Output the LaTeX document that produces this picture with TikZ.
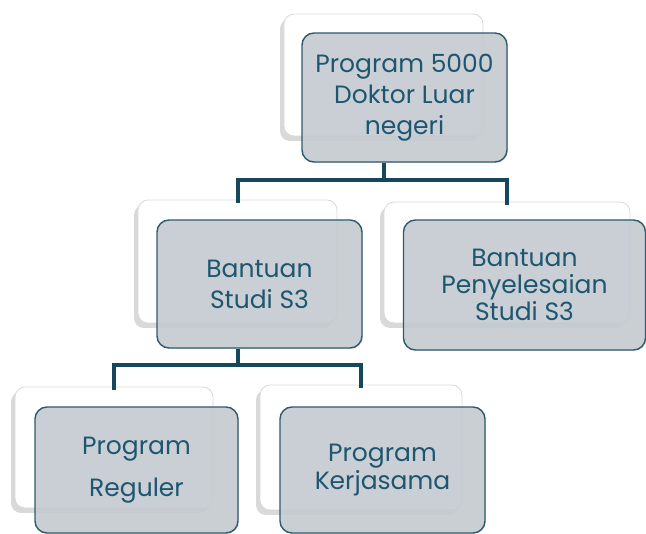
\documentclass[tikz,border=0pt]{standalone}
\usepackage{fontspec}
\setmainfont{Poppins}
\usetikzlibrary{shadows}
\definecolor{frontfill}{HTML}{C6CCD2}
\definecolor{frontline}{HTML}{2C5A6E}
\definecolor{txt}{HTML}{1E5670}
\definecolor{conn}{HTML}{17475C}
\begin{document}
\begin{tikzpicture}[x=1pt,y=-1pt,
  backbox/.style={rectangle, rounded corners=10pt, fill=white, draw=gray!30, line width=0.8pt,
    drop shadow={opacity=0.3, fill=gray, shadow xshift=-4pt, shadow yshift=-5pt}, inner sep=0pt},
  frontbox/.style={rectangle, rounded corners=12pt, fill=frontfill, fill opacity=0.88,
    text opacity=1, draw=frontline, line width=1.4pt, text=txt, align=center,
    font=\fontsize{25}{31}\selectfont, inner sep=0pt,
    drop shadow={opacity=0.2, shadow xshift=1pt, shadow yshift=-1pt}},
  connector/.style={draw=conn, line width=4pt}]
\useasboundingbox (0,0) rectangle (646,534);
% back boxes
\node[backbox, minimum width=199pt, minimum height=122pt] (topb) at (383.5,75) {};
\node[backbox, minimum width=199pt, minimum height=123pt] (bsb) at (237.5,261.5) {};
\node[backbox, minimum width=246pt, minimum height=121pt] (bpb) at (507,262.5) {};
\node[backbox, minimum width=198pt, minimum height=121pt] (rgb) at (114,447.5) {};
\node[backbox, minimum width=202pt, minimum height=125pt] (kjb) at (361,447.5) {};
% front boxes
\node[frontbox, minimum width=205pt, minimum height=129pt] (top) at (404.5,97.5)
  {Program 5000\\Doktor Luar\\negeri};
\node[frontbox, minimum width=205pt, minimum height=128pt] (bs) at (259.5,284)
  {Bantuan\\Studi S3};
\node[frontbox, minimum width=242pt, minimum height=130pt, font=\fontsize{25}{27}\selectfont] (bp) at (524.5,285)
  {Bantuan\\Penyelesaian\\Studi S3};
\node[frontbox, minimum width=203pt, minimum height=126pt, font=\fontsize{25}{42}\selectfont] (rg) at (136.5,470)
  {Program\\Reguler};
\node[frontbox, minimum width=205pt, minimum height=126pt, font=\fontsize{25}{28}\selectfont] (kj) at (382.5,470)
  {Program\\Kerjasama};
% connectors
\coordinate (j1) at (383.5,180);
\coordinate (j2) at (237.5,365);
\draw[connector] (topb.center |- top.south) -- (j1) -| ([yshift=-3pt]bsb.north);
\draw[connector] (j1) -| ([yshift=-3pt]bpb.north);
\draw[connector] (bsb.center |- bs.south) -- (j2) -| ([yshift=-3pt]rgb.north);
\draw[connector] (j2) -| ([yshift=-3pt]kjb.north);
\end{tikzpicture}
\end{document}
